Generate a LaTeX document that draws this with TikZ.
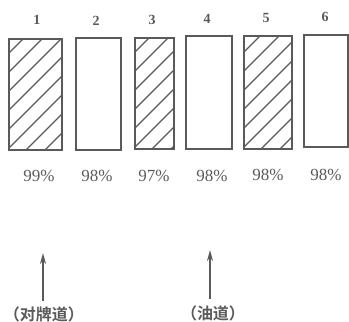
\documentclass[tikz,border=0pt]{standalone}
\usepackage{fontspec}
\newfontfamily\cjk{Noto Sans CJK SC Bold}
\setmainfont{Liberation Serif}
\definecolor{ink}{RGB}{90,90,90}
\usetikzlibrary{arrows.meta}
\tikzset{
  bar/.style={draw=ink, line width=1.6pt},
  num/.style={text=ink, font=\bfseries\fontsize{14}{14}\selectfont},
  pct/.style={text=ink, font=\fontsize{17}{17}\selectfont},
  lab/.style={text=ink, font=\cjk\fontsize{16}{16}\selectfont},
  hatch/.style={draw=ink, line width=1.2pt},
  arr/.style={draw=ink, line width=1.6pt, -{Stealth[length=11pt,width=6pt]}}
}
\begin{document}
\begin{tikzpicture}[x=1pt,y=-1pt]
\useasboundingbox (0,0) rectangle (349,322);
% boxes
\foreach \n/\xa/\ya/\xb/\yb/\h in {1/8/38/61/149/1, 2/75/37/120/149/0, 3/134/37/173/148/1, 4/185/35/231/148/0, 5/243/35/291/148/1, 6/303/34/347/146/0}{
  \ifnum\h=1
    \begin{scope}
      \clip (\xa,\ya) rectangle (\xb,\yb);
      \foreach \k in {-4,...,10}{
        \draw[hatch] (\xa-10,\yb-\k*19+10) -- ++(90,-90);
      }
    \end{scope}
  \fi
  \node[bar, minimum width={\xb-\xa}, minimum height={\yb-\ya}, inner sep=0, anchor=north west] (b\n) at (\xa,\ya) {};
}
\node[num] (n1) at (37,20) {1};
\node[num] (n2) at (96,21) {2};
\node[num] (n3) at (152,20) {3};
\node[num] (n4) at (207,19) {4};
\node[num] (n5) at (266,18) {5};
\node[num] (n6) at (325,17) {6};
\node[pct] (p1) at (39,176) {99\%};
\node[pct] (p2) at (97,176) {98\%};
\node[pct] (p3) at (154,176) {97\%};
\node[pct] (p4) at (212,176) {98\%};
\node[pct] (p5) at (268,175) {98\%};
\node[pct] (p6) at (326,175) {98\%};
\node[lab] (l1) at (44,314) {（对牌道）};
\node[lab] (l2) at (213,313) {（油道）};
\coordinate (t1) at (43,253);
\coordinate (t2) at (210,250);
\draw[arr] (43,301) -- (t1);
\draw[arr] (210,299) -- (t2);
\end{tikzpicture}
\end{document}
